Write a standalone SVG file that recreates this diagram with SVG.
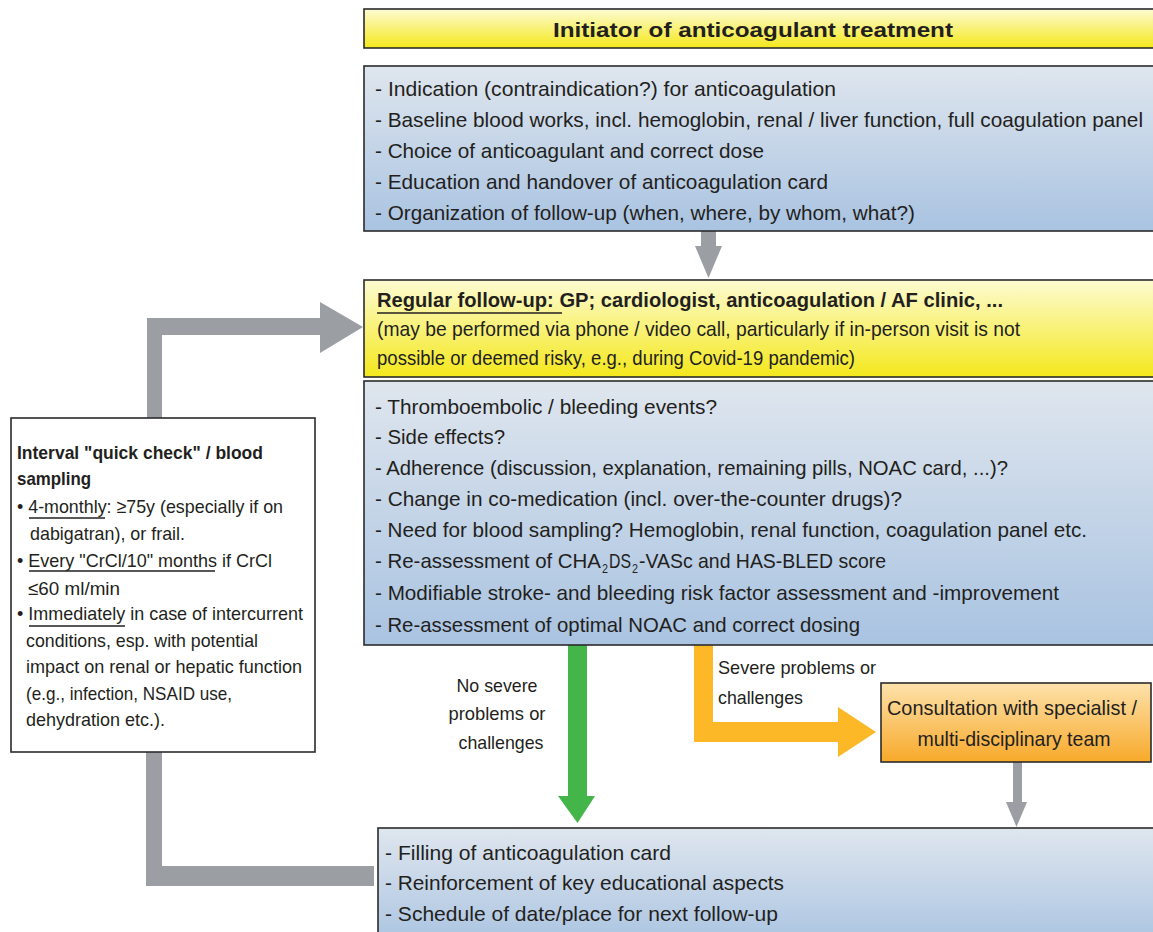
<svg xmlns="http://www.w3.org/2000/svg" width="1153" height="932" viewBox="0 0 1153 932">
<defs>
<linearGradient id="gBlue" x1="0" y1="0" x2="0" y2="1"><stop offset="0" stop-color="#dfe6ee"/><stop offset="1" stop-color="#a9c3e1"/></linearGradient>
<linearGradient id="gYel" x1="0" y1="0" x2="0" y2="1"><stop offset="0" stop-color="#fdfbd2"/><stop offset="1" stop-color="#f4e81c"/></linearGradient>
<linearGradient id="gOr" x1="0" y1="0" x2="0" y2="1"><stop offset="0" stop-color="#fde2ab"/><stop offset="1" stop-color="#f8a92a"/></linearGradient>
<style>
.box{stroke:#2b2b2b;stroke-width:1.6}
.t{font-family:"Liberation Sans",Arial,sans-serif;font-size:21px;fill:#231f20}
.s{font-family:"Liberation Sans",Arial,sans-serif;font-size:19px;fill:#231f20}
.sub{font-family:"Liberation Sans",Arial,sans-serif;font-size:13px;fill:#231f20}
.b{font-weight:bold}
.ul{stroke:#231f20;stroke-width:1.3}
.gray{fill:#9b9ea3}
</style>
</defs>
<g id="connectors">
<polygon class="gray" points="147,420 147,318 320,318 320,302 363,327 320,353 320,335 162,335 162,420"/>
<polygon class="gray" points="146,752 146,886 374,886 374,866 162,866 162,752"/>
<polygon class="gray" points="701,231 716,231 716,246 722,246 708.5,278 695,246 701,246"/>
<polygon class="gray" points="1013,762 1022,762 1022,802 1027,802 1016.5,827 1006,802 1013,802"/>
<polygon fill="#44b549" points="568,645 587,645 587,796 595,796 577.5,823 558,796 568,796"/>
<polygon fill="#fdb827" points="694,645 713,645 713,722 838,722 838,707 876,732 838,757 838,742 694,742"/>
</g>
<g id="title">
<rect class="box" x="364" y="9" width="800" height="39" fill="url(#gYel)"/>
<text class="t b" x="753" y="37" text-anchor="middle" font-size="23" textLength="400" lengthAdjust="spacingAndGlyphs">Initiator of anticoagulant treatment</text>
</g>
<g id="initiator-tasks">
<rect class="box" x="364" y="66" width="800" height="165" fill="url(#gBlue)"/>
<text class="t" x="375" y="96" textLength="461" lengthAdjust="spacingAndGlyphs">- Indication (contraindication?) for anticoagulation</text>
<text class="t" x="375" y="127" textLength="768" lengthAdjust="spacingAndGlyphs">- Baseline blood works, incl. hemoglobin, renal / liver function, full coagulation panel</text>
<text class="t" x="375" y="158" textLength="389" lengthAdjust="spacingAndGlyphs">- Choice of anticoagulant and correct dose</text>
<text class="t" x="375" y="189" textLength="453" lengthAdjust="spacingAndGlyphs">- Education and handover of anticoagulation card</text>
<text class="t" x="375" y="220" textLength="540" lengthAdjust="spacingAndGlyphs">- Organization of follow-up (when, where, by whom, what?)</text>
</g>
<g id="regular-followup">
<rect class="box" x="364" y="280" width="800" height="97" fill="url(#gYel)"/>
<text class="t b" x="377" y="307" font-size="20" textLength="626" lengthAdjust="spacingAndGlyphs">Regular follow-up: GP; cardiologist, anticoagulation / AF clinic, ...</text>
<line class="ul" x1="377" y1="313" x2="562" y2="313"/>
<text class="t" x="377" y="336" font-size="20" textLength="643" lengthAdjust="spacingAndGlyphs">(may be performed via phone / video call, particularly if in-person visit is not</text>
<text class="t" x="377" y="365" font-size="20" textLength="478" lengthAdjust="spacingAndGlyphs">possible or deemed risky, e.g., during Covid-19 pandemic)</text>
</g>
<g id="followup-checks">
<rect class="box" x="364" y="381" width="800" height="264" fill="url(#gBlue)"/>
<text class="t" x="375" y="414" textLength="342" lengthAdjust="spacingAndGlyphs">- Thromboembolic / bleeding events?</text>
<text class="t" x="375" y="444" textLength="130" lengthAdjust="spacingAndGlyphs">- Side effects?</text>
<text class="t" x="375" y="475" textLength="633" lengthAdjust="spacingAndGlyphs">- Adherence (discussion, explanation, remaining pills, NOAC card, ...)?</text>
<text class="t" x="375" y="506" textLength="527" lengthAdjust="spacingAndGlyphs">- Change in co-medication (incl. over-the-counter drugs)?</text>
<text class="t" x="375" y="537" textLength="712" lengthAdjust="spacingAndGlyphs">- Need for blood sampling? Hemoglobin, renal function, coagulation panel etc.</text>
<text class="t" x="375" y="568" textLength="226" lengthAdjust="spacingAndGlyphs">- Re-assessment of CHA</text>
<text class="sub" x="602" y="573" textLength="6" lengthAdjust="spacingAndGlyphs">2</text>
<text class="t" x="609" y="568" textLength="22" lengthAdjust="spacingAndGlyphs">DS</text>
<text class="sub" x="632" y="573" textLength="6" lengthAdjust="spacingAndGlyphs">2</text>
<text class="t" x="639" y="568" textLength="247" lengthAdjust="spacingAndGlyphs">-VASc and HAS-BLED score</text>
<text class="t" x="375" y="600" textLength="684" lengthAdjust="spacingAndGlyphs">- Modifiable stroke- and bleeding risk factor assessment and -improvement</text>
<text class="t" x="375" y="632" textLength="485" lengthAdjust="spacingAndGlyphs">- Re-assessment of optimal NOAC and correct dosing</text>
</g>
<g id="interval-box">
<rect class="box" x="11" y="418" width="304" height="334" fill="#ffffff"/>
<text class="s b" x="17" y="459" textLength="246" lengthAdjust="spacingAndGlyphs">Interval "quick check" / blood</text>
<text class="s b" x="17" y="485" textLength="74" lengthAdjust="spacingAndGlyphs">sampling</text>
<text class="s" x="17" y="513" textLength="266" lengthAdjust="spacingAndGlyphs">• 4-monthly: ≥75y (especially if on</text>
<line class="ul" x1="29" y1="518" x2="105" y2="518"/>
<text class="s" x="30" y="540" textLength="155" lengthAdjust="spacingAndGlyphs">dabigatran), or frail.</text>
<text class="s" x="17" y="567" textLength="255" lengthAdjust="spacingAndGlyphs">• Every "CrCl/10" months  if CrCl</text>
<line class="ul" x1="29" y1="571" x2="215" y2="571"/>
<text class="s" x="28" y="595" textLength="92" lengthAdjust="spacingAndGlyphs">≤60 ml/min</text>
<text class="s" x="17" y="620" textLength="286" lengthAdjust="spacingAndGlyphs">• Immediately in case of intercurrent</text>
<line class="ul" x1="29" y1="626" x2="125" y2="626"/>
<text class="s" x="26" y="647" textLength="232" lengthAdjust="spacingAndGlyphs">conditions, esp. with potential</text>
<text class="s" x="26" y="673" textLength="276" lengthAdjust="spacingAndGlyphs">impact on renal or hepatic function</text>
<text class="s" x="26" y="700" textLength="206" lengthAdjust="spacingAndGlyphs">(e.g., infection, NSAID use,</text>
<text class="s" x="26" y="726" textLength="139" lengthAdjust="spacingAndGlyphs">dehydration etc.).</text>
</g>
<g id="label-no-severe">
<text class="s" x="497" y="692" text-anchor="middle" textLength="81" lengthAdjust="spacingAndGlyphs">No severe</text>
<text class="s" x="497" y="720" text-anchor="middle" textLength="97" lengthAdjust="spacingAndGlyphs">problems or</text>
<text class="s" x="501" y="749" text-anchor="middle" textLength="85" lengthAdjust="spacingAndGlyphs">challenges</text>
</g>
<g id="label-severe">
<text class="s" x="718" y="674" textLength="158" lengthAdjust="spacingAndGlyphs">Severe problems or</text>
<text class="s" x="718" y="704" textLength="85" lengthAdjust="spacingAndGlyphs">challenges</text>
</g>
<g id="consultation">
<rect class="box" x="881" y="683" width="270" height="79" fill="url(#gOr)"/>
<text class="t" x="1012" y="715" text-anchor="middle" font-size="20" textLength="250" lengthAdjust="spacingAndGlyphs">Consultation with specialist /</text>
<text class="t" x="1014" y="746" text-anchor="middle" font-size="20" textLength="193" lengthAdjust="spacingAndGlyphs">multi-disciplinary team</text>
</g>
<g id="closing-tasks">
<rect class="box" x="378" y="828" width="800" height="120" fill="url(#gBlue)"/>
<text class="t" x="385" y="860" textLength="286" lengthAdjust="spacingAndGlyphs">- Filling of anticoagulation card</text>
<text class="t" x="385" y="890" textLength="399" lengthAdjust="spacingAndGlyphs">- Reinforcement of key educational aspects</text>
<text class="t" x="385" y="921" textLength="393" lengthAdjust="spacingAndGlyphs">- Schedule of date/place for next follow-up</text>
</g>
</svg>
